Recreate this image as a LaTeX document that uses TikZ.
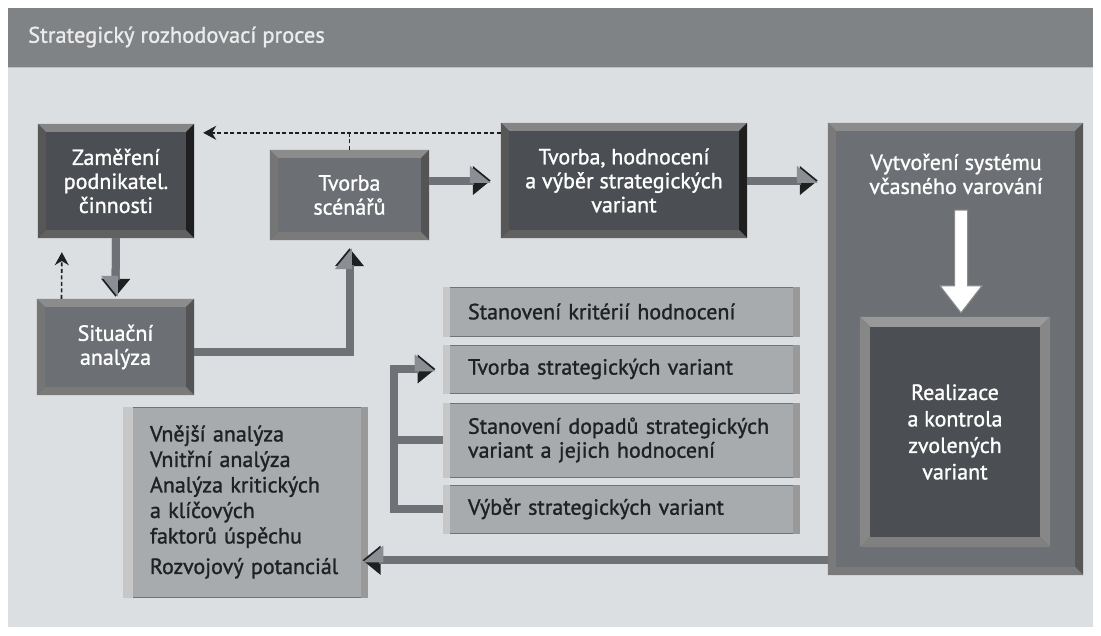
\documentclass[tikz,border=0pt]{standalone}
\usepackage{fontspec}
\setmainfont{PT Sans}[BoldFont=PT Sans, BoldFeatures={FakeBold=1.2}]
\usetikzlibrary{arrows.meta,calc}

\definecolor{panelc}{HTML}{DCDFE2}
\definecolor{headerc}{HTML}{808386}
\definecolor{darkc}{HTML}{4B4E52}
\definecolor{midc}{HTML}{6C6F73}
\definecolor{lightc}{HTML}{A8ABAE}
\definecolor{shaftc}{HTML}{6E7175}
\definecolor{tipc}{HTML}{1E1F21}
\definecolor{litc}{HTML}{8B8E92}
\definecolor{inkc}{HTML}{1F2124}

% bevelled edge of a box: thickness, node, top, right, bottom, left
\newcommand{\bevel}[6][8pt]{%
  \fill[#3] (#2.north west) -- (#2.north east) -- ([shift={(-#1,-#1)}]#2.north east) -- ([shift={(#1,-#1)}]#2.north west) -- cycle;
  \fill[#4] (#2.north east) -- (#2.south east) -- ([shift={(-#1,#1)}]#2.south east) -- ([shift={(-#1,-#1)}]#2.north east) -- cycle;
  \fill[#5] (#2.south east) -- (#2.south west) -- ([shift={(#1,#1)}]#2.south west) -- ([shift={(-#1,#1)}]#2.south east) -- cycle;
  \fill[#6] (#2.south west) -- (#2.north west) -- ([shift={(#1,-#1)}]#2.north west) -- ([shift={(#1,#1)}]#2.south west) -- cycle;
}
% light and dark side strips of a flat box
\newcommand{\sides}[2][7pt]{%
  \fill[lightedge] (#2.north west) rectangle ([xshift=#1]#2.south west);
  \fill[darkedge] (#2.north east) rectangle ([xshift=-7pt]#2.south east);
}

\tikzset{
  every node/.style={font=\fontsize{22}{24}\selectfont\bfseries},
  darkbox/.style={fill=darkc, text=white, align=center, inner sep=0pt},
  midbox/.style={fill=midc, text=white, align=center, inner sep=0pt},
  listbox/.style={fill=lightc, draw=black!55, line width=1pt, text=inkc, align=left,
    inner xsep=25pt, inner ysep=0pt, text width=306pt},
  lightedge/.style={fill=black!22},
  darkedge/.style={fill=black!40},
  flow/.style={line width=8pt, draw=shaftc, -{Triangle[length=18pt,width=28pt,color=tipc]},
    postaction={draw=shaftc, -{Triangle[length=18pt,width=28pt,color=litc,harpoon]}}},
  flowswap/.style={line width=8pt, draw=shaftc, -{Triangle[length=18pt,width=28pt,color=tipc]},
    postaction={draw=shaftc, -{Triangle[length=18pt,width=28pt,color=litc,harpoon,swap]}}},
  bar/.style={line width=8pt, draw=shaftc},
  dashflow/.style={line width=1.6pt, draw=tipc, dash pattern=on 4pt off 2.5pt,
    -{Stealth[length=13pt,width=14pt]}},
}

\begin{document}
\begin{tikzpicture}[x=1pt,y=1pt]
  \useasboundingbox (0,0) rectangle (1101,-635);
  \fill[white] (0,0) rectangle (1101,-635);
  \fill[panelc] (8,-67) rectangle (1093,-627);
  \fill[headerc] (8,-8) rectangle (1093,-67);
  \draw[black!25, line width=1pt] (8,-67.5) -- (1093,-67.5);
  \node[anchor=west, text=white!92!black, inner sep=0pt, font=\fontsize{22.5}{24}\selectfont\bfseries] (title) at (28,-37) {Strategický rozhodovací proces};

  % upper row
  \node[darkbox, minimum width=156pt, minimum height=114pt] (zam) at (116,-181) {Zaměření\\podnikatel.\\činnosti};
  \node[midbox, minimum width=159pt, minimum height=90pt] (scen) at (349.5,-195) {Tvorba\\scénářů};
  \node[midbox, minimum width=157pt, minimum height=96pt] (sit) at (115.5,-347) {Situační\\analýza};
  \node[darkbox, minimum width=246pt, minimum height=115pt] (tvh) at (624,-180.5) {Tvorba, hodnocení\\a výběr strategických\\variant};
  \bevel{zam}{black!48}{black!88}{black!62}{black!66}
  \bevel{tvh}{black!48}{black!88}{black!62}{black!66}
  \bevel{scen}{black!45}{black!67}{black!52}{black!54}
  \bevel{sit}{black!45}{black!67}{black!52}{black!54}

  % right column
  \node[midbox, minimum width=255pt, minimum height=452pt] (right) at (955.5,-349) {};
  \bevel{right}{black!45}{black!66}{black!52}{black!52}
  \node[text=white, align=center, inner sep=0pt] (warn) at (956,-174) {Vytvoření systému\\včasného varování};
  \node[darkbox, minimum width=190pt, minimum height=230pt, font=\fontsize{22}{26.5}\selectfont\bfseries] (realiz) at (955,-432) {Realizace\\a kontrola\\zvolených\\variant};
  \bevel[10pt]{realiz}{black!40}{black!47}{black!50}{black!47}

  % list of steps
  \node[listbox, minimum height=49pt] (crit) at (621,-311.5) {Stanovení kritérií hodnocení};
  \node[listbox, minimum height=48pt] (make) at (621,-369) {Tvorba strategických variant};
  \node[listbox, minimum height=74pt] (impact) at (621,-440) {Stanovení dopadů strategických\\variant a jejich hodnocení};
  \node[listbox, minimum height=48pt] (choose) at (621,-509) {Výběr strategických variant};
  \foreach \n in {crit,make,impact,choose} {\sides{\n}}

  % analyses
  \node[listbox, text width=190pt, inner xsep=27pt, minimum height=190pt, font=\fontsize{22}{25.5}\selectfont\bfseries] (ext) at (245,-502)
    {Vnější analýza\\Vnitřní analýza\\Analýza kritických\\a klíčových\\faktorů úspěchu\\[5pt]Rozvojový potanciál};
  \sides[10pt]{ext}

  % connectors
  \draw[flowswap, shorten >=2pt] (zam.south) -- (sit.north);
  \draw[flow, shorten >=8pt] ([yshift=-5pt]sit.east) -| (scen.south);
  \draw[flow, shorten >=10pt] (scen.east |- tvh.west) -- (tvh.west);
  \draw[flow, shorten >=10pt] (tvh.east) -- (right.west |- tvh.east);
  \draw[dashflow, shorten >=9pt] ([yshift=-10pt]tvh.north west) -- ([yshift=-9pt]zam.north east);
  \draw[dashflow, -] (scen.north) -- ++(0,17);
  \draw[dashflow, shorten >=14pt] ([xshift=-54pt]sit.north) -- ([xshift=-54pt]zam.south);
  \draw[flow, shorten >=7pt] (choose.west) -- ++(-49,0) |- (make.west);
  \draw[bar] (impact.west) -- ++(-49,0);
  \draw[flowswap, shorten >=-5pt] ([yshift=15pt]right.south west) -- ([yshift=15pt]right.south west -| ext.east);

  % white arrow inside the warning box
  \coordinate (wtop) at (961,-210);
  \coordinate (wtip) at ([yshift=4pt]wtop |- realiz.north);
  \filldraw[fill=white, draw=black!45, line width=1pt]
    ($(wtop)+(-6.5,0)$) -- ($(wtop)+(6.5,0)$) -- ($(wtip)+(6.5,27)$) -- ($(wtip)+(21,27)$) -- (wtip)
    -- ($(wtip)+(-21,27)$) -- ($(wtip)+(-6.5,27)$) -- cycle;
\end{tikzpicture}
\end{document}
